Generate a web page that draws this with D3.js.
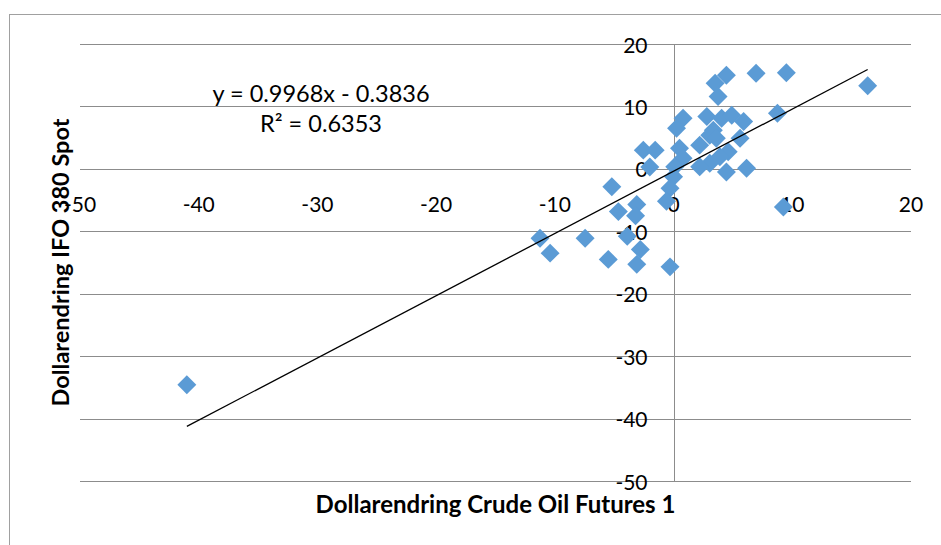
<!DOCTYPE html>
<html>
<head>
<meta charset="utf-8">
<script src="https://cdn.jsdelivr.net/npm/d3@7"></script>
<style>
  html, body { margin: 0; padding: 0; background: #fff; }
  svg { display: block; font-family: Lato, "Open Sans", sans-serif; }
</style>
</head>
<body>
<svg id="chart" width="941" height="545"></svg>
<script>
// Monthly dollar changes: crude oil front-month futures vs. IFO 380 spot
const crudeChange = [
  -41.0, 16.35, 9.5, 6.95, 4.45, 3.5, 3.75, 8.75, 9.25, 2.8,
  4.05, 4.9, 5.9, 5.6, 3.35, 3.05, 3.6, 2.2, 4.6, 3.9,
  3.05, 2.2, 4.45, 6.15, 0.8, 0.25, 0.5, 0.8, 0.1, 0.0,
  -0.3, -0.6, -0.3, -2.55, -1.55, -2.0, -5.2, -4.65, -3.1, -3.2,
  -3.9, -2.8, -3.1, -5.5, -7.45, -10.4, -11.25
];
const ifoChange = [
  -34.6, 13.3, 15.4, 15.3, 15.0, 13.7, 11.6, 8.9, -6.1, 8.4,
  8.1, 8.6, 7.6, 4.9, 6.2, 5.4, 4.9, 3.8, 2.75, 1.95,
  0.9, 0.35, -0.5, 0.1, 8.1, 6.5, 3.3, 1.7, 0.35, -1.25,
  -3.1, -5.2, -15.7, 3.0, 3.0, 0.3, -2.85, -6.85, -5.7, -7.5,
  -10.8, -12.9, -15.3, -14.5, -11.1, -13.5, -11.1
];

// Linear trendline as reported on the chart
const trendSlope = 0.9968;
const trendIntercept = -0.3836;
const rSquared = 0.6353;

const xTicks = [-50, -40, -30, -20, -10, 0, 10, 20];
const yTicks = [-50, -40, -30, -20, -10, 0, 10, 20];

const xTitle = "Dollarendring Crude Oil Futures 1";
const yTitle = "Dollarendring IFO 380 Spot";

const points = crudeChange.map((x, i) => ({ x, y: ifoChange[i] }));

const svg = d3.select("#chart");

const x = d3.scaleLinear().domain([-50, 20]).range([80, 911]);
const y = d3.scaleLinear().domain([-50, 20]).range([481, 44]);

const gridColor = "#8c8c8c";
const markerColor = "#5b9bd5";

// outer chart frame
svg.append("rect")
  .attr("x", 9.5).attr("y", 14.5)
  .attr("width", 960).attr("height", 560)
  .attr("fill", "none")
  .attr("stroke", "#a0a0a0")
  .attr("stroke-width", 1);

// horizontal gridlines
svg.append("g")
  .selectAll("line")
  .data(yTicks)
  .join("line")
  .attr("x1", x(-50)).attr("x2", x(20))
  .attr("y1", d => Math.round(y(d)) + 0.5)
  .attr("y2", d => Math.round(y(d)) + 0.5)
  .attr("stroke", gridColor)
  .attr("stroke-width", 1);

// vertical axis line through x = 0
svg.append("line")
  .attr("x1", Math.round(x(0)) + 0.5).attr("x2", Math.round(x(0)) + 0.5)
  .attr("y1", y(20)).attr("y2", y(-50))
  .attr("stroke", gridColor)
  .attr("stroke-width", 1);

// x tick labels, sitting just below the horizontal axis at y = 0
svg.append("g")
  .selectAll("text")
  .data(xTicks)
  .join("text")
  .attr("x", d => x(d))
  .attr("y", y(0) + 43)
  .attr("text-anchor", "middle")
  .attr("font-size", 21)
  .attr("fill", "#000")
  .text(d => d);

// y tick labels, right-aligned left of the vertical axis
svg.append("g")
  .selectAll("text")
  .data(yTicks)
  .join("text")
  .attr("x", x(0) - 26)
  .attr("y", d => y(d) + 8.5)
  .attr("text-anchor", "end")
  .attr("font-size", 21)
  .attr("fill", "#000")
  .text(d => d);

// scatter markers (diamonds)
const diamond = d3.symbol().type(d3.symbolSquare).size(180);
svg.append("g")
  .selectAll("path")
  .data(points)
  .join("path")
  .attr("d", diamond)
  .attr("transform", d => `translate(${x(d.x)},${y(d.y)}) rotate(45)`)
  .attr("fill", markerColor);

// trendline over the data range
const xExtent = d3.extent(crudeChange);
svg.append("line")
  .attr("x1", x(xExtent[0]))
  .attr("y1", y(trendSlope * xExtent[0] + trendIntercept))
  .attr("x2", x(xExtent[1]))
  .attr("y2", y(trendSlope * xExtent[1] + trendIntercept))
  .attr("stroke", "#000")
  .attr("stroke-width", 1.3);

// trendline equation and R²
const fmt = d3.format(".4f");
const eq = svg.append("g").attr("font-size", 23.5).attr("text-anchor", "middle").attr("fill", "#000");
eq.append("text")
  .attr("x", 321).attr("y", 102)
  .text(`y = ${fmt(trendSlope)}x ${trendIntercept < 0 ? "-" : "+"} ${fmt(Math.abs(trendIntercept))}`);
eq.append("text")
  .attr("x", 321).attr("y", 132)
  .text(`R² = ${fmt(rSquared)}`);

// axis titles
svg.append("text")
  .attr("x", (x(-50) + x(20)) / 2)
  .attr("y", 513)
  .attr("text-anchor", "middle")
  .attr("font-size", 24)
  .attr("font-weight", "bold")
  .attr("fill", "#000")
  .text(xTitle);

svg.append("text")
  .attr("transform", `translate(69,${(y(20) + y(-50)) / 2}) rotate(-90)`)
  .attr("text-anchor", "middle")
  .attr("font-size", 23.5)
  .attr("font-weight", "bold")
  .attr("fill", "#000")
  .text(yTitle);
</script>
</body>
</html>
